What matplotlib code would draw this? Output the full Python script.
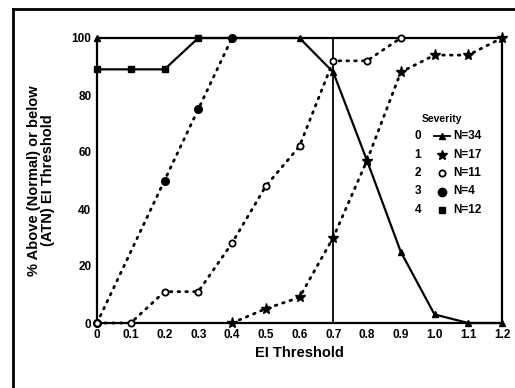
import matplotlib
matplotlib.use("Agg")
import matplotlib.pyplot as plt
from matplotlib.lines import Line2D

plt.rcParams['font.family'] = ['Liberation Sans', 'DejaVu Sans']
plt.rcParams['font.weight'] = 'bold'

thresholds = [0.0, 0.1, 0.2, 0.3, 0.4, 0.5, 0.6, 0.7, 0.8, 0.9, 1.0, 1.1, 1.2]

# severity 0 (N=34), solid, triangles
sev0 = [100, 100, 100, 100, 100, 100, 100, 88, 57, 25, 3, 0, 0]
# severity 1 (N=17), dotted, stars, from 0.4
sev1_x = [0.4, 0.5, 0.6, 0.7, 0.8, 0.9, 1.0, 1.1, 1.2]
sev1 = [0, 5, 9, 30, 57, 88, 94, 94, 100]
# severity 2 (N=11), dotted, open circles
sev2_x = [0.0, 0.1, 0.2, 0.3, 0.4, 0.5, 0.6, 0.7, 0.8, 0.9]
sev2 = [0, 0, 11, 11, 28, 48, 62, 92, 92, 100]
# severity 3 (N=4), dotted, filled circles
sev3_x = [0.0, 0.2, 0.3, 0.4]
sev3 = [0, 50, 75, 100]
# severity 4 (N=12), solid, squares
sev4 = [89, 89, 89, 100, 100, 100, 100, 100, 100, 100, 100, 100, 100]

legend_ids = ['0', '1', '2', '3', '4']
legend_n = ['N=34', 'N=17', 'N=11', 'N=4', 'N=12']

fig = plt.figure(figsize=(5.15, 3.88), dpi=100)
ax = fig.add_axes([97 / 515, 1 - 323 / 388, 405 / 515, 285 / 388])

dot = (0, (0.6, 2.2))
ax.plot(thresholds, sev4, color='black', lw=1.6, marker='s', ms=5,
        markevery=[0, 1, 2, 3], clip_on=False, zorder=3)
ax.plot(thresholds, sev0, color='black', lw=1.6, marker='^', ms=5,
        markevery=[0, 6, 7, 8, 9, 10, 11, 12], clip_on=False, zorder=3)
ax.plot(sev3_x, sev3, color='black', lw=2, ls=dot, marker='o', ms=5.5,
        dash_capstyle='round', clip_on=False, zorder=3)
ax.plot(sev2_x, sev2, color='black', lw=2, ls=dot, marker='o', ms=4.5,
        mfc='white', mew=1.3, dash_capstyle='round', clip_on=False, zorder=4)
ax.plot(sev1_x, sev1, color='black', lw=2, ls=dot, marker='*', ms=8,
        dash_capstyle='round', clip_on=False, zorder=4)

ax.plot([0.7, 0.7], [0, 100], color='black', lw=1.3, zorder=2)

ax.set_xlim(0, 1.2)
ax.set_ylim(0, 100)
ax.set_xticks(thresholds)
ax.set_xticklabels(['0', '0.1', '0.2', '0.3', '0.4', '0.5', '0.6', '0.7',
                    '0.8', '0.9', '1.0', '1.1', '1.2'])
ax.set_yticks([0, 20, 40, 60, 80, 100])
ax.tick_params(length=0, labelsize=8.5, pad=4)
for lab in ax.get_xticklabels() + ax.get_yticklabels():
    lab.set_fontweight('heavy')
ax.spines['top'].set_visible(False)
for s in ['left', 'bottom', 'right']:
    ax.spines[s].set_linewidth(1.6)

ax.set_xlabel('EI Threshold', fontsize=10.5, fontweight='bold', labelpad=4)
ax.set_ylabel('% Above (Normal) or below\n(ATN) EI Threshold', fontsize=10.5,
              fontweight='bold', labelpad=12, linespacing=1.0)

# legend
markers = [dict(marker='^', ms=5), dict(marker='*', ms=7.5),
           dict(marker='o', ms=4.5, mfc='white', mew=1.3),
           dict(marker='o', ms=6), dict(marker='s', ms=5)]
ax.text((442 - 97) / 405, (323 - 119) / 285, 'Severity', transform=ax.transAxes,
        ha='center', va='center', fontsize=7.5, fontweight='bold')
for i, (sid, n) in enumerate(zip(legend_ids, legend_n)):
    yy = (323 - (136 + i * 18.5)) / 285
    ax.text((418 - 97) / 405, yy, sid, transform=ax.transAxes, ha='center',
            va='center', fontsize=8.5, fontweight='bold')
    if i == 0:
        ax.plot([(434 - 97) / 405, (450 - 97) / 405], [yy, yy], color='black',
                lw=1.3, transform=ax.transAxes, clip_on=False)
    ax.plot([(442 - 97) / 405], [yy], color='black', ls='none',
            transform=ax.transAxes, clip_on=False, **markers[i])
    ax.text((453 - 97) / 405, yy, n, transform=ax.transAxes, ha='left',
            va='center', fontsize=8.5, fontweight='bold')

# outer frame (left and top edges visible)
fig.add_artist(Line2D([13 / 515, 13 / 515], [0, 1 - 9 / 388], color='black', lw=2))
fig.add_artist(Line2D([13 / 515, 1], [1 - 9 / 388, 1 - 9 / 388], color='black', lw=2))

fig.savefig('out.png', dpi=100)
